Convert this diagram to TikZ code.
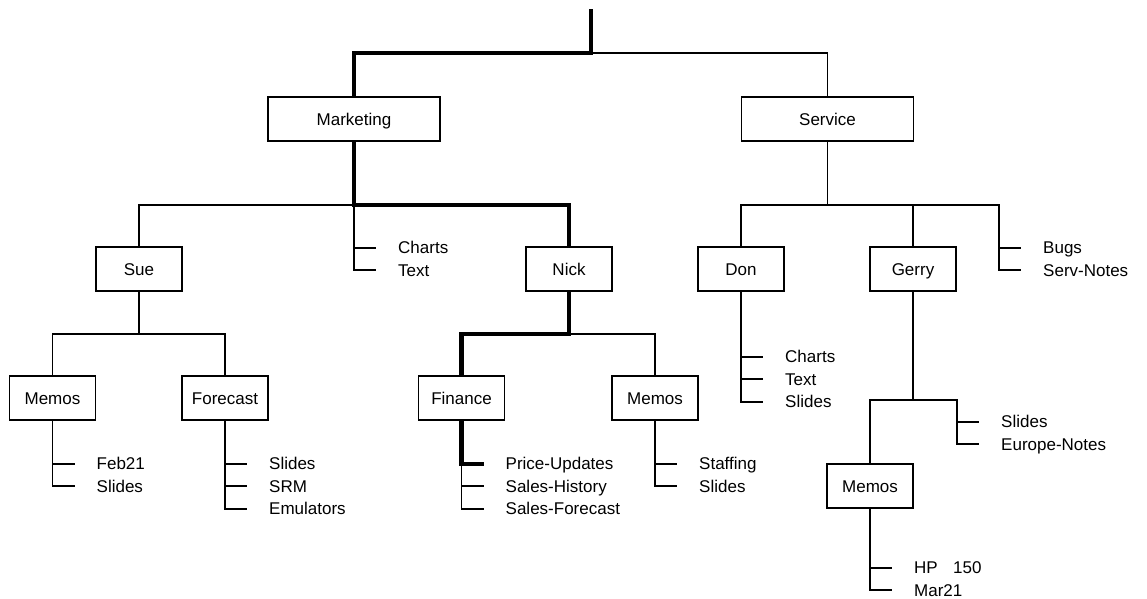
\documentclass[tikz,border=0pt]{standalone}
\usepackage{fontspec}
\setmainfont{Liberation Sans}
\usetikzlibrary{positioning, calc}
\tikzset{
  % folder boxes of the tree
  box/.style={draw, line width=1.8pt, minimum width=86pt, minimum height=44pt,
    inner sep=0pt, text height=12pt, text depth=0pt,
    font=\fontsize{17}{20}\selectfont},
  wide/.style={box, minimum width=172pt},
  % file names hanging off a bracket (west anchor = tick height)
  leaf/.style={inner xsep=0pt, inner ysep=5pt, text height=12pt, text depth=0pt,
    font=\fontsize{17}{20}\selectfont, anchor=west},
  nxt/.style={anchor=north west},
  wire/.style={line width=1.8pt},
  hot/.style={line width=4.5pt},
}

\begin{document}
\begin{tikzpicture}[x=1pt, y=-1pt]
\useasboundingbox (0,0) rectangle (1147,598);

% =====================================================================
% FOLDER BOXES
% =====================================================================
\coordinate (root) at (591,9);

\node[wide] (mkt) at (354,119) {Marketing};
\node[wide] (svc) at (827.5,119) {Service};

\node[box] (sue)   at (139,269) {Sue};
\node[box] (nick)  at (569,269) {Nick};
\node[box] (don)   at (741,269) {Don};
\node[box] (gerry) at (913,269) {Gerry};

\node[box] (memA) at (52.5,398) {Memos};
\node[box] (fcst) at (225,398) {Forecast};
\node[box] (fin)  at (461.5,398) {Finance};
\node[box] (memB) at (655,398) {Memos};
\node[box] (memC) at (870,486) {Memos};

% =====================================================================
% FILE NAMES
% =====================================================================
\node[leaf] (mkCh) at ($(mkt.south)+(44,106)$) {Charts};
\node[leaf, nxt] (mkTx) at (mkCh.south west) {Text};

\node[leaf] (aFeb) at ($(memA.south)+(44,43)$) {Feb21};
\node[leaf, nxt] (aSld) at (aFeb.south west) {Slides};

\node[leaf] (fSld) at ($(fcst.south)+(44,43)$) {Slides};
\node[leaf, nxt] (fSrm) at (fSld.south west) {SRM};
\node[leaf, nxt] (fEmu) at (fSrm.south west) {Emulators};

\node[leaf] (pUpd) at ($(fin.south)+(44,43)$) {Price-Updates};
\node[leaf, nxt] (sHst) at (pUpd.south west) {Sales-History};
\node[leaf, nxt] (sFct) at (sHst.south west) {Sales-Forecast};

\node[leaf] (bStf) at ($(memB.south)+(44,43)$) {Staffing};
\node[leaf, nxt] (bSld) at (bStf.south west) {Slides};

\node[leaf] (bugs) at ($(svc.south)+(215.5,106)$) {Bugs};
\node[leaf, nxt] (srvN) at (bugs.south west) {Serv-Notes};

\node[leaf] (dCh) at ($(don.south)+(44,65)$) {Charts};
\node[leaf, nxt] (dTx) at (dCh.south west) {Text};
\node[leaf, nxt] (dSl) at (dTx.south west) {Slides};

\node[leaf] (gSld) at ($(gerry.south)+(88,130)$) {Slides};
\node[leaf, nxt] (eur) at (gSld.south west) {Europe-Notes};

\node[leaf] (hp)  at ($(memC.south)+(44,59)$) {HP\hspace{0.9em}150};
\node[leaf, nxt] (mar) at (hp.south west) {Mar21};

% =====================================================================
% THIN CONNECTORS
% =====================================================================
\draw[wire] (root) ++(0,44) -| (svc.north);

\draw[wire] (mkt.south) ++(0,63) -| (sue.north);
\draw[wire] (mkt.south) |- ([xshift=-22pt]mkTx.west);
\draw[wire] (mkCh.west -| mkt.south) -- ([xshift=-22pt]mkCh.west);

\draw[wire] (sue.south) -- ++(0,42) -| (memA.north);
\draw[wire] (sue.south) ++(0,42) -| (fcst.north);
\draw[wire] (nick.south) ++(0,42) -| (memB.north);

\draw[wire] (memA.south) |- ([xshift=-22pt]aSld.west);
\draw[wire] (aFeb.west -| memA.south) -- ([xshift=-22pt]aFeb.west);

\draw[wire] (fcst.south) |- ([xshift=-22pt]fEmu.west);
\draw[wire] (fSld.west -| fcst.south) -- ([xshift=-22pt]fSld.west);
\draw[wire] (fSrm.west -| fcst.south) -- ([xshift=-22pt]fSrm.west);

\draw[wire] (fin.south) |- ([xshift=-22pt]sFct.west);
\draw[wire] (sHst.west -| fin.south) -- ([xshift=-22pt]sHst.west);

\draw[wire] (memB.south) |- ([xshift=-22pt]bSld.west);
\draw[wire] (bStf.west -| memB.south) -- ([xshift=-22pt]bStf.west);

\draw[wire] (svc.south) -- ++(0,63) -| (don.north);
\draw[wire] (svc.south) ++(0,63) -| (gerry.north);
\draw[wire] (svc.south) ++(0,63) -| ([xshift=-44pt]srvN.west) -- ([xshift=-22pt]srvN.west);
\draw[wire] ([xshift=-44pt]bugs.west) -- ([xshift=-22pt]bugs.west);

\draw[wire] (don.south) |- ([xshift=-22pt]dSl.west);
\draw[wire] (dCh.west -| don.south) -- ([xshift=-22pt]dCh.west);
\draw[wire] (dTx.west -| don.south) -- ([xshift=-22pt]dTx.west);

\draw[wire] (gerry.south) -- ++(0,108) -| (memC.north);
\draw[wire] (gerry.south) ++(0,108) -| ([xshift=-44pt]eur.west) -- ([xshift=-22pt]eur.west);
\draw[wire] ([xshift=-44pt]gSld.west) -- ([xshift=-22pt]gSld.west);

\draw[wire] (memC.south) |- ([xshift=-22pt]mar.west);
\draw[wire] (hp.west -| memC.south) -- ([xshift=-22pt]hp.west);

% =====================================================================
% THICK PATH  (root -> Marketing -> Nick -> Finance -> Price-Updates)
% =====================================================================
\draw[hot] (root) -- ++(0,44) -| (mkt.north);
\draw[hot] (mkt.south) -- ++(0,63) -| (nick.north);
\draw[hot] (nick.south) -- ++(0,42) -| (fin.north);
\draw[hot] (fin.south) |- ([xshift=-22pt]pUpd.west);

\end{tikzpicture}
\end{document}
